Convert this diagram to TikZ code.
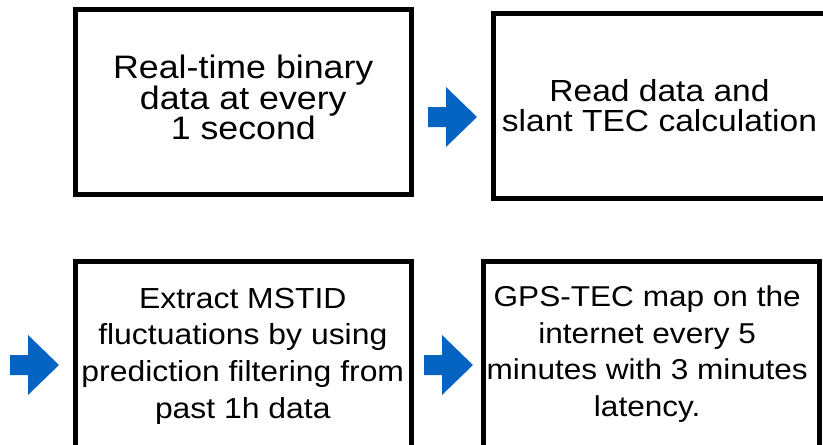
\documentclass[tikz,border=0pt]{standalone}
\usepackage{fontspec}
\setmainfont[FakeStretch=1.1]{Liberation Sans}
\definecolor{arrowblue}{RGB}{5,99,193}
\begin{document}
\begin{tikzpicture}[x=1pt,y=-1pt,
  box/.style={draw=black, line width=5pt, inner sep=0pt, fill=none},
  txt/.style={align=center, inner sep=0pt},
  fontA/.style={font=\fontsize{32.5pt}{30.5pt}\selectfont},
  fontB/.style={font=\fontsize{30.5pt}{30pt}\selectfont},
  fontC/.style={font=\fontsize{29pt}{36.7pt}\selectfont},
  fontD/.style={font=\fontsize{28.7pt}{36.7pt}\selectfont},
  blockarrow/.pic={\fill[arrowblue] (0,-10) -- (18,-10) -- (18,-30) -- (49,0) -- (18,30) -- (18,10) -- (0,10) -- cycle;}
]
\useasboundingbox (0,0) rectangle (823,445);
\node[box, minimum width=336.7pt, minimum height=184.5pt] (b1) at (243.35,102.2) {};
\node[box, minimum width=332.7pt, minimum height=185pt] (b2) at (659.7,105.5) {};
\node[box, minimum width=335.8pt, minimum height=199pt] (b3) at (243.4,360.5) {};
\node[box, minimum width=336pt, minimum height=199pt] (b4) at (651,360.5) {};
\node[txt, fontA] (t1) at (243.3,97.8) {Real-time binary\\data at every\\1 second};
\node[txt, fontB] (t2) at (659.5,105.1) {Read data and\\slant TEC calculation};
\node[txt, fontC] (t3) at (242.8,356) {Extract MSTID\\fluctuations by using\\prediction filtering from\\past 1h data};
\node[txt, fontD] (t4) at (647.2,354.1) {GPS-TEC map on the\\internet every 5\\minutes with 3 minutes\\latency.};
\pic at (428,117) {blockarrow};
\pic at (10,365) {blockarrow};
\pic at (424,365) {blockarrow};
\end{tikzpicture}
\end{document}
